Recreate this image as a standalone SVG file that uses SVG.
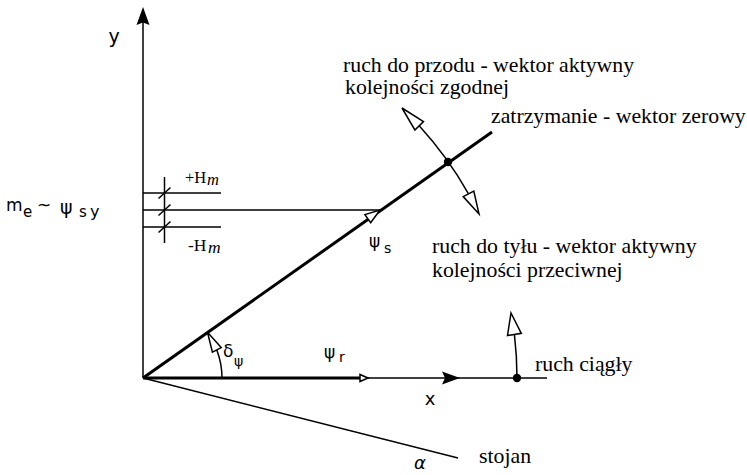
<svg xmlns="http://www.w3.org/2000/svg" width="747" height="475" viewBox="0 0 747 475">
<style>
.thin{stroke:#000;stroke-width:1.5;fill:none}
.thick{stroke:#000;stroke-width:3;fill:none}
.open{stroke:#000;stroke-width:1.5;fill:#fff;stroke-linejoin:miter}
.solid{fill:#000;stroke:none}
.lbl{font-family:"Liberation Serif","Times New Roman",serif;font-size:21.8px;fill:#000}
.math{font-family:"DejaVu Sans","Liberation Sans",sans-serif;fill:#000}
.hm{font-family:"Liberation Serif","Times New Roman",serif;fill:#000}
</style>
<rect width="747" height="475" fill="#fff"/>
<g id="connectors">
  <line class="thin" x1="143" y1="378" x2="143" y2="22"/>
  <path class="solid" d="M143,7 L149.5,25 L143,22.5 L136.5,25 Z"/>
  <line class="thin" x1="360" y1="378" x2="547" y2="378"/>
  <path class="solid" d="M460,378 L442,371.5 L445,378 L442,384.5 Z"/>
  <line class="thick" x1="143" y1="378" x2="360" y2="378"/>
  <path class="open" d="M368,378 L360,374.5 L360,381.5 Z"/>
  <line class="thin" x1="143" y1="378" x2="458" y2="458"/>
  <line class="thick" x1="143" y1="378" x2="492" y2="132"/>
  <line class="thin" x1="143" y1="210" x2="380" y2="210"/>
  <path class="open" d="M380,210 L370.7,222.8 L364.9,214.6 Z"/>
  <line class="thin" x1="143" y1="193" x2="221" y2="193"/>
  <line class="thin" x1="143" y1="227" x2="221" y2="227"/>
  <line class="thin" x1="164.5" y1="177" x2="164.5" y2="243"/>
  <line class="thin" x1="158.5" y1="198.5" x2="170.5" y2="187.5"/>
  <line class="thin" x1="158.5" y1="215.5" x2="170.5" y2="204.5"/>
  <line class="thin" x1="158.5" y1="232.5" x2="170.5" y2="221.5"/>
  <path class="thin" d="M222,378 A79,79 0 0 0 216.8,349.9"/>
  <path class="open" d="M207.5,332.3 L221.2,347.6 L212.4,352.2 Z"/>
  <path class="thin" d="M419.2,125.8 A374,374 0 0 1 468.5,193.8"/>
  <path class="open" d="M402,108 L423.5,121.6 L414.9,130 Z"/>
  <path class="open" d="M479,214 L473.8,191 L463.2,196.6 Z"/>
  <circle class="solid" cx="448" cy="162" r="4.2"/>
  <path class="thin" d="M517,378 A374,374 0 0 0 514.4,334.4"/>
  <path class="open" d="M511,313 L521.3,333.3 L507.5,335.5 Z"/>
  <circle class="solid" cx="517" cy="378" r="4.2"/>
</g>
<g id="labels-axes">
  <text class="math" x="114" y="43" font-size="19" text-anchor="middle">y</text>
  <text class="math" x="430" y="405" font-size="18" text-anchor="middle">x</text>
  <text class="math" x="420" y="469" font-size="18" text-anchor="middle" font-style="italic">α</text>
</g>
<g id="label-me">
  <text class="math" font-size="17"><tspan x="6" y="211">m</tspan><tspan x="23" y="217" font-size="15">e</tspan><tspan x="37" y="211">~</tspan><tspan x="60" y="214" font-size="19">ψ</tspan><tspan x="79" y="217" font-size="15">s</tspan><tspan x="90" y="217" font-size="16">y</tspan></text>
</g>
<g id="label-hm">
  <text class="hm" font-size="16.5"><tspan x="185" y="183">+H</tspan></text>
  <text class="hm" font-size="16.5" font-style="italic" x="207" y="185">m</text>
  <text class="hm" font-size="17.5"><tspan x="188" y="251">-H</tspan></text>
  <text class="hm" font-size="17.5" font-style="italic" x="208" y="253">m</text>
</g>
<g id="label-psis">
  <text class="math" font-size="17"><tspan x="369" y="247">ψ</tspan><tspan x="384" y="253" font-size="14">s</tspan></text>
</g>
<g id="label-psir">
  <text class="math" font-size="17"><tspan x="324" y="358">ψ</tspan><tspan x="339" y="362" font-size="14">r</tspan></text>
</g>
<g id="label-delta">
  <text class="math" font-size="17"><tspan x="223" y="357">δ</tspan><tspan x="234" y="366" font-size="14">ψ</tspan></text>
</g>
<g id="node-forward">
  <text class="lbl" x="343" y="72">ruch do przodu - wektor aktywny</text>
  <text class="lbl" x="345" y="94">kolejności zgodnej</text>
</g>
<g id="node-stop">
  <text class="lbl" x="491" y="123">zatrzymanie - wektor zerowy</text>
</g>
<g id="node-backward">
  <text class="lbl" x="432" y="253">ruch do tyłu - wektor aktywny</text>
  <text class="lbl" x="432" y="277">kolejności przeciwnej</text>
</g>
<g id="node-continuous">
  <text class="lbl" x="535" y="371">ruch ciągły</text>
</g>
<g id="node-stojan">
  <text class="lbl" x="479" y="463">stojan</text>
</g>
</svg>
